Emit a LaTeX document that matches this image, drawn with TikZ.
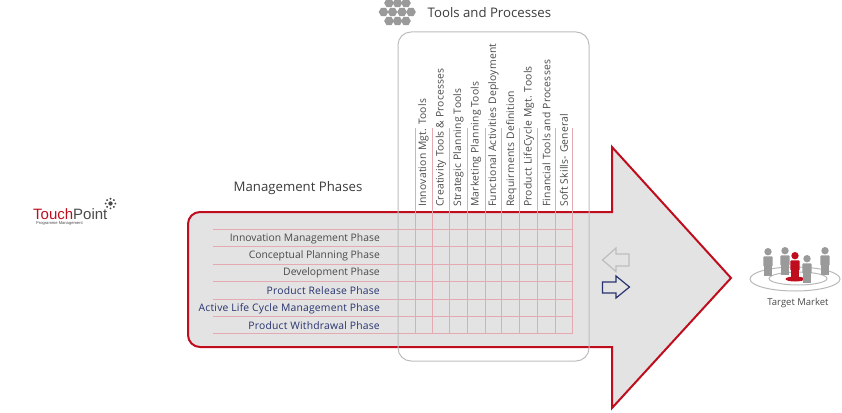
\documentclass[tikz,border=0pt]{standalone}
\usepackage{fontspec}
\setmainfont{Open Sans}
\newfontfamily\logofont{Liberation Sans}
\definecolor{arrowred}{HTML}{C00D1E}
\definecolor{arrowfill}{HTML}{E3E3E3}
\definecolor{gridpink}{HTML}{E4A9B1}
\definecolor{boxgrey}{HTML}{BDBDBD}
\definecolor{textgrey}{HTML}{4A4A4A}
\definecolor{textblue}{HTML}{27336F}
\definecolor{icongrey}{HTML}{9A9A9A}
\tikzset{
  phaseline/.style={gridpink,line width=1pt},
  phase/.style={anchor=east,inner sep=0pt,font=\fontsize{10.35}{12}\selectfont,text=textgrey},
  phaseblue/.style={anchor=east,inner sep=0pt,font=\fontsize{10.35}{12}\selectfont\addfontfeature{LetterSpace=2},text=textblue},
  tool/.style={anchor=west,rotate=90,inner sep=0pt,font=\fontsize{10.35}{12}\selectfont\addfontfeature{LetterSpace=2},text=textgrey},
  heading/.style={anchor=west,inner sep=0pt,font=\fontsize{13.2}{15}\selectfont,text=textgrey!80!black},
  hexcell/.style={fill=icongrey,draw=none},
  person/.style={fill=icongrey,draw=none},
}
\newcommand{\hexat}[2]{\fill[hexcell] (#1+4.8,#2) -- (#1+2.4,#2-4.2) -- (#1-2.4,#2-4.2) -- (#1-4.8,#2) -- (#1-2.4,#2+4.2) -- (#1+2.4,#2+4.2) -- cycle;}
\newcommand{\personat}[3]{%
  \fill[#3] (#1,#2) circle (3.7);
  \fill[#3,rounded corners=1pt] (#1-4.7,#2+4.6) rectangle (#1+4.7,#2+15);
  \fill[#3] (#1-3.6,#2+14) rectangle (#1-0.4,#2+24);
  \fill[#3] (#1+0.4,#2+14) rectangle (#1+3.6,#2+24);
}
\begin{document}
\begin{tikzpicture}[x=1pt,y=-1pt]
\useasboundingbox (0,0) rectangle (842,412);
% big arrow
\draw[arrowred,line width=2pt,fill=arrowfill,line join=miter]
  (612,147) -- (731,278) -- (612,408) -- (612,347) -- (200,347)
  arc[start angle=90,end angle=180,radius=12] -- (188,224)
  arc[start angle=180,end angle=270,radius=12] -- (612,212) -- cycle;
% grid
\foreach \y in {229.5,246.8,264.2,281.2,299,316.2,333.3}
  \draw[phaseline] (213,\y) -- (573,\y);
\foreach \x in {415.3,432.3,449.5,467.3,485,501.8,519.3,537.7,555,572.3}
  \draw[phaseline] (\x,128) -- (\x,333.3);
% tools box
\draw[boxgrey,line width=1pt,rounded corners=13pt] (398,32) rectangle (589,361);
% tools
\node[tool] (t1) at (423.5,207) {Innovation Mgt. Tools};
\node[tool] (t2) at (441,207) {Creativity Tools \& Processes};
\node[tool] (t3) at (458.5,207) {Strategic Planning Tools};
\node[tool] (t4) at (476,207) {Marketing Planning Tools};
\node[tool] (t5) at (493.5,207) {Functional Activities Deployment};
\node[tool] (t6) at (511.5,207) {Requirments Definition};
\node[tool] (t7) at (529,207) {Product LifeCycle Mgt. Tools};
\node[tool] (t8) at (546.5,207) {Financial Tools and Processes};
\node[tool] (t9) at (564,207) {Soft Skills- General};
% phases
\node[phase] (p1) at (380,239) {Innovation Management Phase};
\node[phase] (p2) at (380,256) {Conceptual Planning Phase};
\node[phase] (p3) at (380,273) {Development Phase};
\node[phaseblue] (p4) at (380,290.5) {Product Release Phase};
\node[phaseblue] (p5) at (380,308.5) {Active Life Cycle Management Phase};
\node[phaseblue] (p6) at (380,326) {Product Withdrawal Phase};
% headings
\node[heading] (mgmt) at (233.5,188.5) {Management Phases};
\node[heading] (toolsh) at (427.5,13) {Tools and Processes};
% hex icon
\foreach \x in {389,397.5,406} {\hexat{\x}{3}\hexat{\x}{21}}
\foreach \x in {383.5,392.5,402,411} {\hexat{\x}{12}}
% small arrows
\draw[boxgrey,line width=1.2pt,line join=miter] (602.5,260) -- (616,248) -- (616,254) -- (629,254) -- (629,266) -- (616,266) -- (616,271.5) -- cycle;
\draw[textblue,line width=1.2pt,line join=miter] (629.5,287) -- (616,276) -- (616,282) -- (602.5,282) -- (602.5,293) -- (616,293) -- (616,298) -- cycle;
% logo
\node[anchor=base west,inner sep=0pt,font=\logofont\fontsize{15}{17}\selectfont] (logo) at (33,219) {\textcolor{arrowred}{Touch}\textcolor{textgrey}{Point}};
\node[anchor=west,inner sep=0pt,font=\logofont\fontsize{4.1}{5}\selectfont,text=textgrey] (logosub) at (36,224) {Programme Management};
\fill[textgrey] (110.5,203.5) circle (2.2);
\foreach \a in {0,45,...,315}
  \fill[textgrey] (110.5,203.5) ++(\a:4.8) circle (1.05);
% target market
\draw[icongrey!70,line width=1pt] (795,279) ellipse [x radius=45,y radius=12];
\draw[icongrey!70,line width=1pt] (798,278.5) ellipse [x radius=29,y radius=6.5];
\personat{768}{251.7}{person}
\personat{785}{250.7}{person}
\personat{825}{250.7}{person}
\fill[arrowred] (795,279) ellipse [x radius=9.5,y radius=2.5];
\personat{795}{255.7}{fill=arrowred}
\personat{807}{258.7}{person}
\node[anchor=center,inner sep=0pt,font=\fontsize{9.5}{11}\selectfont,text=textgrey] (tm) at (798,303.5) {Target Market};
\end{tikzpicture}
\end{document}
